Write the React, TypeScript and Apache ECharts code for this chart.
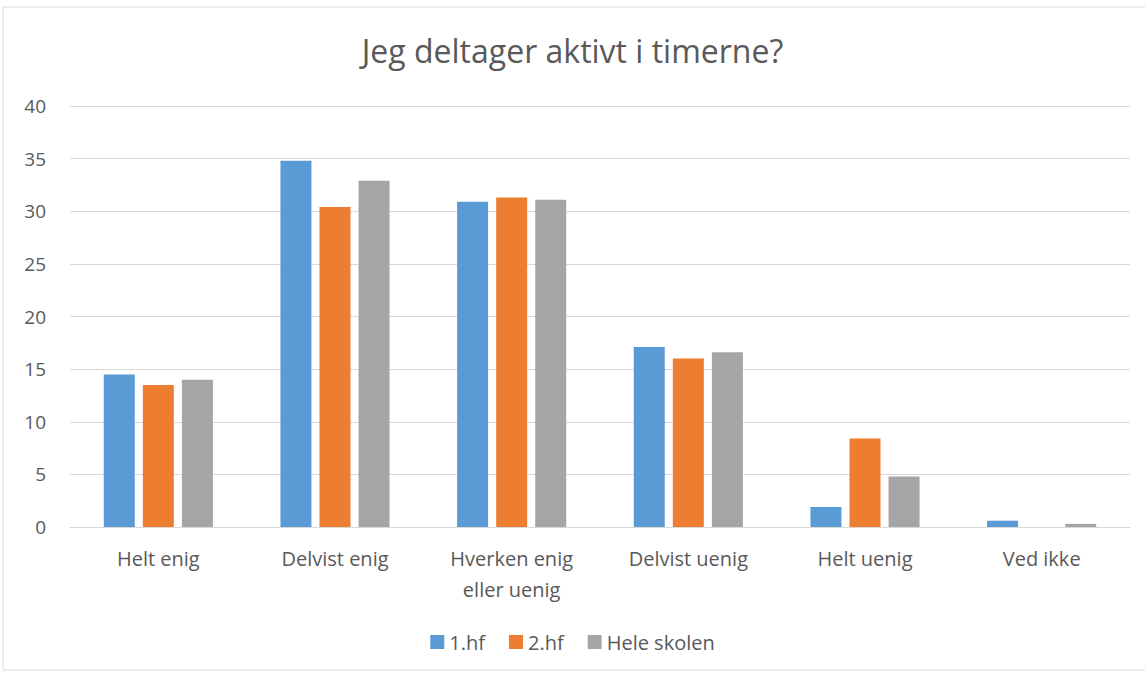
import React, { useEffect, useRef } from "react";
import * as echarts from "echarts";

const categories = ["Helt enig", "Delvist enig", "Hverken enig\neller uenig", "Delvist uenig", "Helt uenig", "Ved ikke"];
const seriesNames = ["1.hf", "2.hf", "Hele skolen"];
const hf1 = [14.5, 34.8, 30.9, 17.1, 1.9, 0.6];
const hf2 = [13.5, 30.4, 31.3, 16.0, 8.4, 0];
const heleSkolen = [14.0, 32.9, 31.1, 16.6, 4.8, 0.3];
const colors = ["#5b9bd5", "#ed7d31", "#a5a5a5"];

const FONT = "'Open Sans', 'Liberation Sans', sans-serif";

export default function App() {
  const ref = useRef<HTMLDivElement>(null);
  useEffect(() => {
    const chart = echarts.init(ref.current!, null, { renderer: "svg" });
    const values = [hf1, hf2, heleSkolen];
    chart.setOption({
      animation: false,
      backgroundColor: "#ffffff",
      title: {
        text: "Jeg deltager aktivt i timerne?",
        left: "center",
        top: 29,
        textStyle: { fontFamily: FONT, fontSize: 32, fontWeight: "normal", color: "#595959" },
      },
      legend: {
        bottom: 18,
        left: "center",
        itemWidth: 14,
        itemHeight: 14,
        itemGap: 24,
        icon: "rect",
        textStyle: { fontFamily: FONT, fontSize: 20, color: "#595959" },
        data: seriesNames,
      },
      grid: { left: 70, right: 15, top: 106, bottom: 148, containLabel: false },
      xAxis: {
        type: "category",
        data: categories,
        axisLine: { lineStyle: { color: "#d9d9d9", width: 1 } },
        axisTick: { show: false },
        axisLabel: { fontFamily: FONT, fontSize: 20, color: "#595959", margin: 16, lineHeight: 31 },
      },
      yAxis: {
        type: "value",
        min: 0,
        max: 40,
        interval: 5,
        axisLine: { show: false },
        axisTick: { show: false },
        splitLine: { lineStyle: { color: "#d9d9d9", width: 1 } },
        axisLabel: { fontFamily: FONT, fontSize: 19, color: "#595959", margin: 24 },
      },
      series: seriesNames.map((name, i) => ({
        name,
        type: "bar",
        data: values[i],
        barWidth: 31,
        barGap: "26%",
        itemStyle: { color: colors[i] },
      })),
      graphic: [
        {
          type: "rect",
          shape: { x: 3, y: 7, width: 1160, height: 663 },
          style: { fill: "none", stroke: "#d9d9d9", lineWidth: 1 },
          silent: true,
        },
      ],
    });
    return () => chart.dispose();
  }, []);
  return <div ref={ref} style={{ position: "fixed", left: 0, top: 0, width: 1145, height: 675 }} />;
}
